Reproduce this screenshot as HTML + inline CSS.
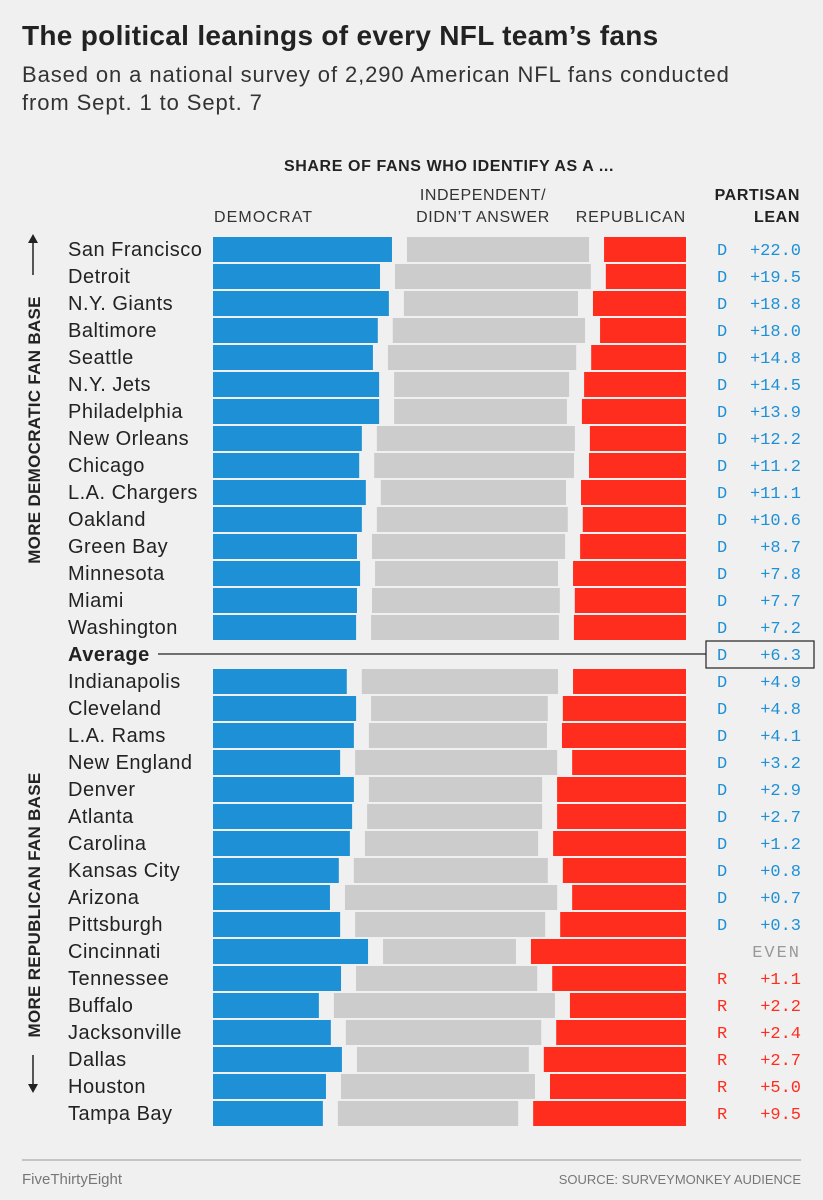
<!DOCTYPE html>
<html><head><meta charset="utf-8">
<style>
body{margin:0;background:#f0f0f0;}
svg{display:block;font-family:"Liberation Sans",sans-serif;}
</style></head><body>
<svg id="chart" width="823" height="1200" viewBox="0 0 823 1200">
<rect width="823" height="1200" fill="#f0f0f0"/>
<text x="22" y="45" font-size="28" font-weight="bold" fill="#222" letter-spacing="0.3">The political leanings of every NFL team’s fans</text>
<text x="22" y="82" font-size="22" fill="#333" letter-spacing="0.9">Based on a national survey of 2,290 American NFL fans conducted</text>
<text x="22" y="110" font-size="22" fill="#333" letter-spacing="0.9">from Sept. 1 to Sept. 7</text>
<text x="449" y="171" font-size="16" font-weight="bold" text-anchor="middle" fill="#222" letter-spacing="0.6">SHARE OF FANS WHO IDENTIFY AS A ...</text>
<text x="214" y="222" font-size="16" fill="#333" letter-spacing="1.1">DEMOCRAT</text>
<text x="483" y="200" font-size="16" fill="#333" text-anchor="middle" letter-spacing="0.6">INDEPENDENT/</text>
<text x="483" y="222" font-size="16" fill="#333" text-anchor="middle" letter-spacing="0.6">DIDN’T ANSWER</text>
<text x="686" y="222" font-size="16" fill="#333" text-anchor="end" letter-spacing="0.8">REPUBLICAN</text>
<text x="800" y="200" font-size="16" font-weight="bold" fill="#222" text-anchor="end" letter-spacing="0.6">PARTISAN</text>
<text x="800" y="222" font-size="16" font-weight="bold" fill="#222" text-anchor="end" letter-spacing="0.6">LEAN</text>
<g>
<text transform="translate(40,430) rotate(-90)" font-size="17" font-weight="bold" fill="#222" text-anchor="middle" letter-spacing="0.3">MORE DEMOCRATIC FAN BASE</text>
<line x1="33" y1="275" x2="33" y2="237" stroke="#222" stroke-width="1.5"/>
<path d="M28,243 L33,234 L38,243 Z" fill="#222"/>
</g>
<g>
<text transform="translate(40,905) rotate(-90)" font-size="17" font-weight="bold" fill="#222" text-anchor="middle" letter-spacing="0.3">MORE REPUBLICAN FAN BASE</text>
<line x1="33" y1="1055" x2="33" y2="1090" stroke="#222" stroke-width="1.5"/>
<path d="M28,1084 L33,1093 L38,1084 Z" fill="#222"/>
</g>
<g id="rows"></g>
<line x1="22" y1="1160" x2="801" y2="1160" stroke="#999"/>
<text x="22" y="1184" font-size="15" fill="#777">FiveThirtyEight</text>
<text x="801" y="1184" font-size="13" fill="#777" text-anchor="end">SOURCE: SURVEYMONKEY AUDIENCE</text>
</svg>
<script>
const teams=["San Francisco","Detroit","N.Y. Giants","Baltimore","Seattle","N.Y. Jets","Philadelphia","New Orleans","Chicago","L.A. Chargers","Oakland","Green Bay","Minnesota","Miami","Washington","Average","Indianapolis","Cleveland","L.A. Rams","New England","Denver","Atlanta","Carolina","Kansas City","Arizona","Pittsburgh","Cincinnati","Tennessee","Buffalo","Jacksonville","Dallas","Houston","Tampa Bay"];
const demShare=[40.4,37.7,39.7,37.2,36.1,37.5,37.5,33.6,33.0,34.5,33.6,32.5,33.2,32.5,32.3,null,30.2,32.3,31.8,28.7,31.8,31.4,30.9,28.4,26.4,28.7,35.0,28.9,23.9,26.6,29.1,25.5,24.8];
const repShare=[18.5,18.1,21.0,19.4,21.4,23.0,23.5,21.7,21.9,23.7,23.3,23.9,25.5,25.1,25.3,null,25.5,27.8,28.0,25.7,29.1,29.1,30.0,27.8,25.7,28.4,35.0,30.2,26.2,29.3,32.1,30.7,34.5];
const leanLabels=["D +22.0","D +19.5","D +18.8","D +18.0","D +14.8","D +14.5","D +13.9","D +12.2","D +11.2","D +11.1","D +10.6","D  +8.7","D  +7.8","D  +7.7","D  +7.2","D  +6.3","D  +4.9","D  +4.8","D  +4.1","D  +3.2","D  +2.9","D  +2.7","D  +1.2","D  +0.8","D  +0.7","D  +0.3","EVEN","R  +1.1","R  +2.2","R  +2.4","R  +2.7","R  +5.0","R  +9.5"];
const NS="http://www.w3.org/2000/svg";
const g=document.getElementById('rows');
const x0=213,x1=686,gap=15,usable=x1-x0-2*gap;
const xs=v=>v/100*usable;
const rowY=i=>237+i*27;
function mk(t,a){const e=document.createElementNS(NS,t);for(const k in a)e.setAttribute(k,a[k]);return e;}
teams.forEach((t,i)=>{
  const y=rowY(i);
  const row=mk('g',{});
  
  
  const isAvg=demShare[i]===null;
  const lbl=mk('text',{x:68,y:y+19,'font-size':20,fill:'#222','font-weight':isAvg?'bold':'normal','letter-spacing':0.5});
  lbl.textContent=t;
  
  
  row.appendChild(lbl);
  if(isAvg){
    const ln=mk('line',{x1:158,y1:y+12,x2:706,y2:y+12,stroke:'#222','stroke-width':1.2});
    
    
    row.appendChild(ln);
    const bx=mk('rect',{x:706,y:y-1,width:108,height:27,fill:'#f0f0f0',stroke:'#222','stroke-width':1.2});
    
    
    row.appendChild(bx);
  } else {
    const dw=xs(demShare[i]),rw=xs(repShare[i]);
    const d=mk('rect',{x:x0,y:y,width:dw,height:25,fill:'#1e90d6'});
    
    
    const gs=x0+dw+gap,ge=x1-rw-gap;
    const gr=mk('rect',{x:gs,y:y,width:Math.max(0,ge-gs),height:25,fill:'#cccccc'});
    
    
    const r=mk('rect',{x:x1-rw,y:y,width:rw,height:25,fill:'#ff2d1e'});
    
    
    row.appendChild(d);row.appendChild(gr);row.appendChild(r);
  }
  const s=leanLabels[i];
  const col=s==='EVEN'?'#999':(s[0]==='R'?'#ff2d1e':'#1e90d6');
  const lt=mk('text',{y:y+18,'font-size':17,fill:col,'font-family':'Liberation Mono, monospace'});
  if(s==='EVEN'){lt.setAttribute('x',801);lt.setAttribute('text-anchor','end');lt.textContent='EVEN';lt.setAttribute('letter-spacing','2');}
  else{
    const a=mk('tspan',{x:717});a.textContent=s[0];
    const b=mk('tspan',{x:801,'text-anchor':'end'});b.textContent=s.slice(1).trim();
    lt.appendChild(a);lt.appendChild(b);
  }
  
  
  row.appendChild(lt);
  g.appendChild(row);
});
</script>
</body></html>
